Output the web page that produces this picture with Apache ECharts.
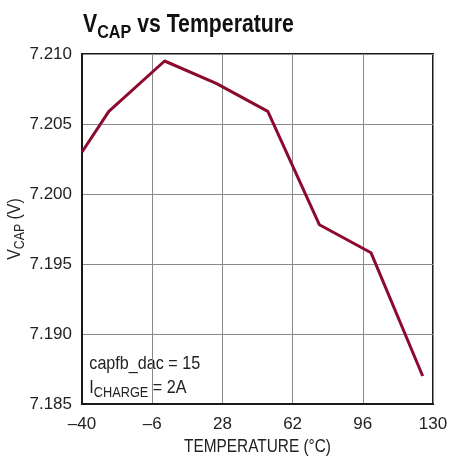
<!DOCTYPE html>
<html>
<head>
<meta charset="utf-8">
<script src="https://cdn.jsdelivr.net/npm/echarts@6/dist/echarts.min.js"></script>
<style>
html,body{margin:0;padding:0;background:#fff;}
#c{width:451px;height:458px;}
</style>
</head>
<body>
<div id="c"></div>
<script>
const temperatures = [-40, -27, 0, 25, 50, 75, 100, 125];
const vcap = [7.2030, 7.2059, 7.2095, 7.2079, 7.2059, 7.1978, 7.1958, 7.1870];
const xTicks = [-40, -6, 28, 62, 96, 130];
const yTicks = [7.185, 7.190, 7.195, 7.200, 7.205, 7.210];

const FONT = '"Liberation Sans", Arial, sans-serif';
const TXT = '#222';
const chart = echarts.init(document.getElementById('c'), null, {renderer: 'canvas'});
const option = {
  animation: false,
  backgroundColor: '#fff',
  grid: {left: 82, right: 18, top: 54, bottom: 54, outerBoundsMode: 'none', containLabel: false,
         show: true, borderColor: '#1a1a1a', borderWidth: 2, backgroundColor: 'transparent'},
  xAxis: {
    type: 'value', min: xTicks[0], max: xTicks[xTicks.length-1], interval: xTicks[1]-xTicks[0],
    axisLine: {show: true, onZero: false, lineStyle: {color: '#1a1a1a', width: 2}},
    axisTick: {show: false},
    axisLabel: {fontFamily: FONT, fontSize: 17, color: TXT, margin: 12,
      formatter: v => (v < 0 ? '\u2013' + Math.abs(v) : String(v))},
    splitLine: {show: true, lineStyle: {color: '#8a8a8a', width: 1}}
  },
  yAxis: {
    type: 'value', min: yTicks[0], max: yTicks[yTicks.length-1], interval: 0.005,
    axisLine: {show: true, onZero: false, lineStyle: {color: '#1a1a1a', width: 2}},
    axisTick: {show: false},
    axisLabel: {fontFamily: FONT, fontSize: 17, color: TXT, margin: 10,
      formatter: v => v.toFixed(3)},
    splitLine: {show: true, lineStyle: {color: '#8a8a8a', width: 1}}
  },
  graphic: [
    { // title
      type: 'text', x: 83, y: 8, scaleX: 0.85, scaleY: 1,
      style: {
        text: '{a|V}{b|CAP}{a| vs Temperature}',
        verticalAlign: 'top', align: 'left',
        rich: {
          a: {fontFamily: FONT, fontWeight: 'bold', fontSize: 25, fill: '#111', lineHeight: 30, verticalAlign: 'bottom'},
          b: {fontFamily: FONT, fontWeight: 'bold', fontSize: 19, fill: '#111', lineHeight: 19, verticalAlign: 'bottom', padding: [0, 0, -4, 0]}
        }
      }
    },
    { // y axis name
      type: 'text', x: 13, y: 229, rotation: Math.PI / 2, scaleX: 0.88, scaleY: 1,
      style: {
        text: '{a|V}{b|CAP}{a| (V)}',
        align: 'center', verticalAlign: 'middle',
        rich: {
          a: {fontFamily: FONT, fontSize: 18, fill: TXT, lineHeight: 22, verticalAlign: 'bottom'},
          b: {fontFamily: FONT, fontSize: 14, fill: TXT, lineHeight: 14, verticalAlign: 'bottom', padding: [0, 0, -3, 0]}
        }
      }
    },
    { // x axis name
      type: 'text', x: 257.5, y: 447, scaleX: 0.855, scaleY: 1,
      style: {
        text: 'TEMPERATURE (°C)', align: 'center', verticalAlign: 'middle',
        fontFamily: FONT, fontSize: 18, fill: TXT
      }
    },
    { // annotation line 1
      type: 'text', x: 89.3, y: 364, scaleX: 0.85, scaleY: 1,
      style: {
        text: 'capfb_dac = 15', align: 'left', verticalAlign: 'middle',
        fontFamily: FONT, fontSize: 19, fill: TXT
      }
    },
    { // annotation line 2
      type: 'text', x: 89.3, y: 373.7, scaleX: 0.85, scaleY: 1,
      style: {
        text: '{a|I}{b|CHARGE}{a| = 2A}', align: 'left', verticalAlign: 'top',
        rich: {
          a: {fontFamily: FONT, fontSize: 19, fill: TXT, lineHeight: 24, verticalAlign: 'bottom'},
          b: {fontFamily: FONT, fontSize: 15, fill: TXT, lineHeight: 15, verticalAlign: 'bottom', padding: [0, 0, -3, 0]}
        }
      }
    }
  ],
  series: [{
    type: 'line',
    data: temperatures.map((t, i) => [t, vcap[i]]),
    showSymbol: false,
    lineStyle: {color: '#8c0a2e', width: 3},
    itemStyle: {color: '#8c0a2e'}
  }]
};
chart.setOption(option);
</script>
</body>
</html>
